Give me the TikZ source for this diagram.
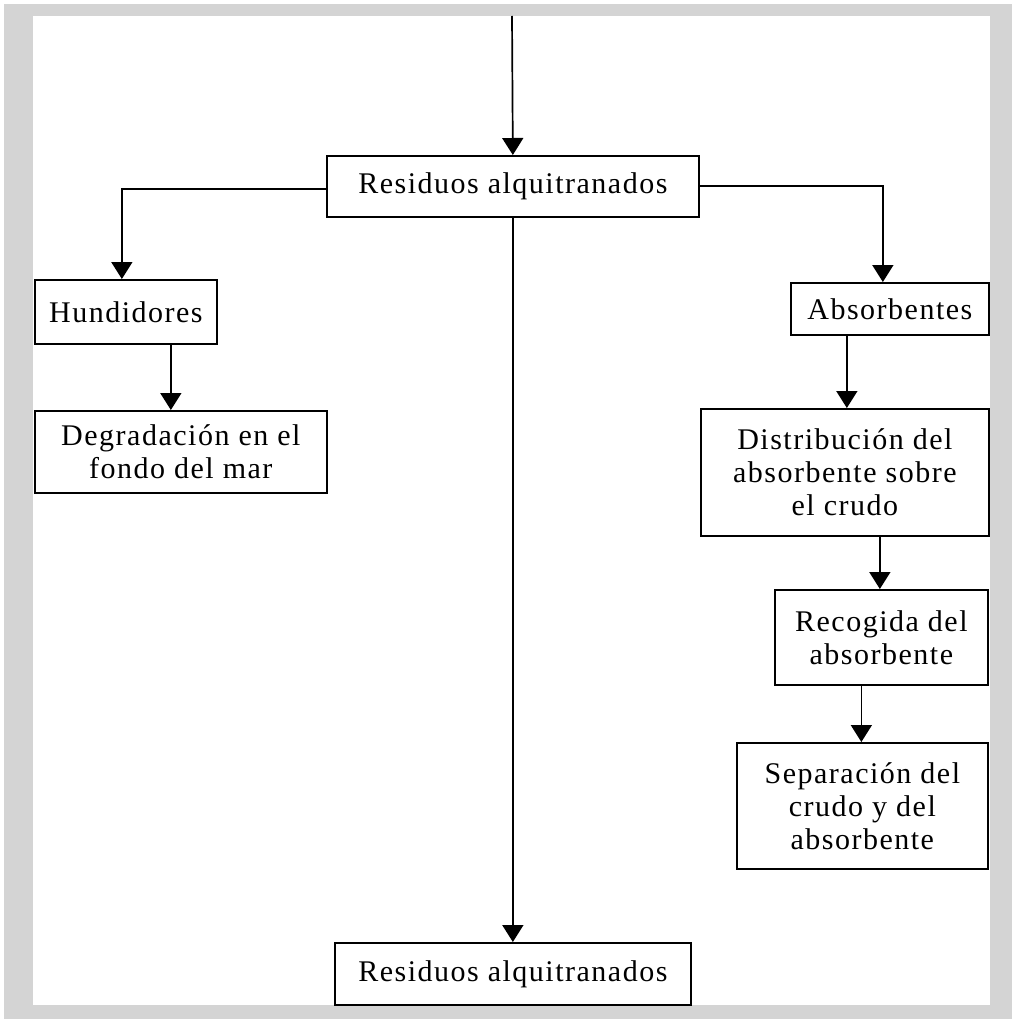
\documentclass[tikz,border=0pt]{standalone}
\usepackage{fontspec}
\setmainfont{Liberation Serif}[LetterSpace=5]
\usetikzlibrary{positioning, arrows.meta, calc}

\begin{document}
\begin{tikzpicture}[
		x=1pt, y=-1pt,
		font=\fontsize{30}{33}\selectfont,
		box/.style={draw, line width=1.7pt, align=center, inner sep=0pt, anchor=north west},
		arr/.style={-{Triangle[width=21pt, length=17pt]}, line width=1.7pt}
	]

	% Marco gris
	\useasboundingbox (0,0) rectangle (1016,1019);
	\fill[black!17] (4,4) rectangle (1012,1019);
	\fill[white] (33,16) rectangle (990,1005);

	% Nodos principales
	\coordinate (start) at (512,16);
	\node[box, minimum width=372pt, minimum height=61pt] (res1) at (326,155) {Residuos alquitranados};
	\node[box, minimum width=356pt, minimum height=62pt] (res2) at (334,942) {Residuos alquitranados};

	% Rama izquierda
	\node[box, minimum width=182pt, minimum height=64pt] (hund) at (34,279) {Hundidores};
	\node[box, minimum width=292pt, minimum height=82pt] (degr) at (34,410) {Degradación en el\\fondo del mar};

	% Rama derecha
	\node[box, minimum width=198pt, minimum height=52pt] (abs) at (790,282) {Absorbentes};
	\node[box, minimum width=288pt, minimum height=127pt] (dist) at (700,408) {Distribución del\\absorbente sobre\\el crudo};
	\node[box, minimum width=213pt, minimum height=95pt] (recog) at (774,589) {Recogida del\\absorbente};
	\node[box, minimum width=251pt, minimum height=126pt] (sep) at (736,742) {Separación del\\crudo y del\\absorbente};

	% Flechas
	\draw[arr] (start) -- (res1.north);
	\draw[arr] ([yshift=-3pt]res1.west) -| ([xshift=-4pt]hund.north);
	\draw[arr] (res1.east) -| ([xshift=-7pt]abs.north);
	\draw[arr] (res1.south) -- (res1.south |- res2.north);
	\draw[arr] ([xshift=45pt]hund.south) -- ([xshift=45pt]hund.south |- degr.north);
	\draw[arr] ([xshift=-43pt]abs.south) -- ([xshift=-43pt]abs.south |- dist.north);
	\draw[arr] ([xshift=35pt]dist.south) -- ([xshift=35pt]dist.south |- recog.north);
	\draw[arr] ([xshift=-20pt]recog.south) -- ([xshift=-20pt]recog.south |- sep.north);

\end{tikzpicture}
\end{document}
